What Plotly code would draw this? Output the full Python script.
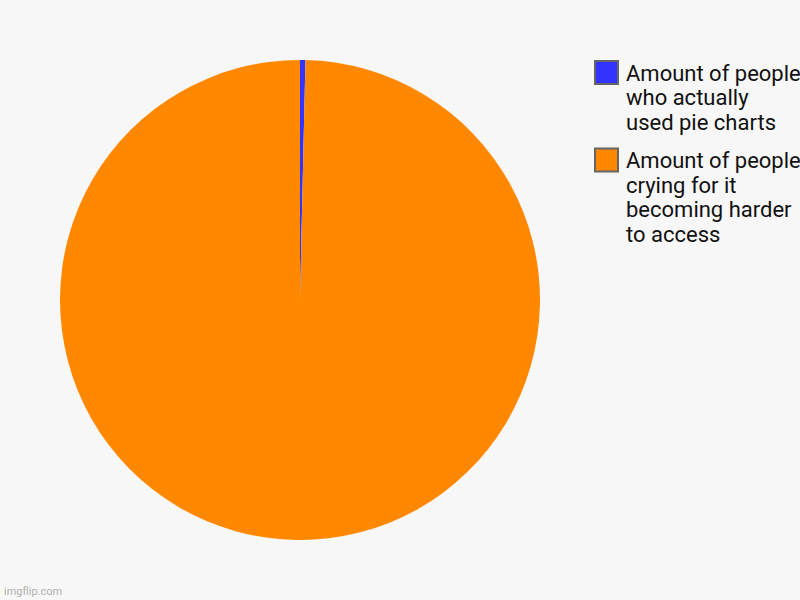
import plotly.graph_objects as go

labels = ["Amount of people who actually used pie charts",
          "Amount of people crying for it becoming harder to access"]
legend_lines = [["Amount of people", "who actually", "used pie charts"],
                ["Amount of people", "crying for it", "becoming harder", "to access"]]
values = [1, 275]
colors = ["#3333ff", "#ff8800"]

W, H = 800, 600
fig = go.Figure()
fig.add_trace(go.Pie(
    labels=labels, values=values, sort=False, direction="clockwise", rotation=0,
    marker=dict(colors=colors, line=dict(width=0)),
    textinfo="none", hoverinfo="label+percent", showlegend=False,
    domain=dict(x=[60 / W, 540 / W], y=[60 / H, 540 / H]),
))

# custom legend (Roboto, tight line spacing as in the reference)
annotations = []
shapes = []
line_h = 24.5
y0 = 73  # center of first legend line (px from top)
for i, lines in enumerate(legend_lines):
    sq_top = y0 - 12
    shapes.append(dict(type="rect", xref="paper", yref="paper",
                       x0=595 / W, x1=618 / W, y0=1 - (sq_top + 23) / H, y1=1 - sq_top / H,
                       fillcolor=colors[i], line=dict(color="#666666", width=2)))
    for j, t in enumerate(lines):
        yc = y0 + j * line_h
        annotations.append(dict(text=t, x=624 / W, y=1 - yc / H, xref="paper", yref="paper",
                                xanchor="left", yanchor="middle", showarrow=False,
                                font=dict(size=22, family="Roboto", color="#111111")))
    y0 += len(lines) * line_h + 14

annotations.append(dict(text="imgflip.com", x=2 / W, y=1 - 591 / H, xref="paper", yref="paper",
                        xanchor="left", yanchor="middle", showarrow=False,
                        font=dict(size=11, color="#b0b0b0", family="Roboto")))

fig.update_layout(
    width=W, height=H,
    margin=dict(l=0, r=0, t=0, b=0),
    paper_bgcolor="#f7f7f7", plot_bgcolor="#f7f7f7",
    font=dict(family="Roboto", color="#111111"),
    annotations=annotations, shapes=shapes,
)
fig.write_html("out.html", config=dict(displayModeBar=False),
               post_script="document.body.style.margin='0';document.body.style.overflow='hidden';")
